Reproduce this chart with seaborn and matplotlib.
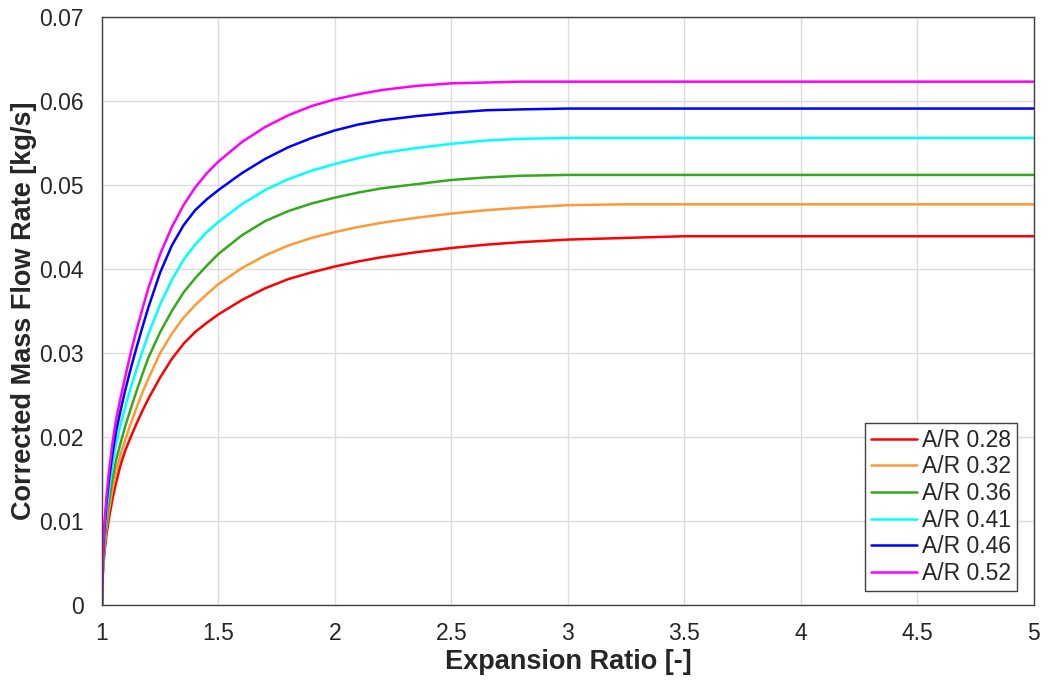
import numpy as np
import pandas as pd
import matplotlib
matplotlib.use("Agg")
import matplotlib.pyplot as plt
import seaborn as sns

# ---- data ----
expansion_ratio = [1.0, 1.003, 1.007, 1.012, 1.02, 1.03, 1.045, 1.06, 1.08, 1.1,
                   1.125, 1.15, 1.175, 1.2, 1.25, 1.3, 1.35, 1.4, 1.45, 1.5,
                   1.6, 1.7, 1.8, 1.9, 2.0, 2.1, 2.2, 2.35, 2.5, 2.65,
                   2.8, 3.0, 3.25, 3.5, 4.0, 4.5, 5.0]

ar_028 = [0.0, 0.0033, 0.0050, 0.0066, 0.0085, 0.0103, 0.0126, 0.0145, 0.0167, 0.0184,
          0.0201, 0.0217, 0.0232, 0.0246, 0.0271, 0.0293, 0.0311, 0.0325, 0.0336, 0.0346,
          0.0363, 0.0377, 0.0388, 0.0396, 0.0403, 0.0409, 0.0414, 0.0420, 0.0425, 0.0429,
          0.0432, 0.0435, 0.0437, 0.0439, 0.0439, 0.0439, 0.0439]
ar_032 = [0.0, 0.0036, 0.0055, 0.0072, 0.0093, 0.0113, 0.0138, 0.0158, 0.0180, 0.0197,
          0.0217, 0.0236, 0.0254, 0.0270, 0.0300, 0.0323, 0.0342, 0.0357, 0.0370, 0.0382,
          0.0401, 0.0416, 0.0428, 0.0437, 0.0444, 0.0450, 0.0455, 0.0461, 0.0466, 0.0470,
          0.0473, 0.0476, 0.0477, 0.0477, 0.0477, 0.0477, 0.0477]
ar_036 = [0.0, 0.0040, 0.0061, 0.0079, 0.0101, 0.0123, 0.0150, 0.0172, 0.0193, 0.0213,
          0.0235, 0.0256, 0.0276, 0.0295, 0.0325, 0.0350, 0.0372, 0.0389, 0.0404, 0.0418,
          0.0440, 0.0457, 0.0469, 0.0478, 0.0485, 0.0491, 0.0496, 0.0501, 0.0506, 0.0509,
          0.0511, 0.0512, 0.0512, 0.0512, 0.0512, 0.0512, 0.0512]
ar_041 = [0.0, 0.0044, 0.0068, 0.0088, 0.0113, 0.0137, 0.0166, 0.0191, 0.0215, 0.0236,
          0.0260, 0.0282, 0.0303, 0.0323, 0.0358, 0.0387, 0.0411, 0.0429, 0.0444, 0.0456,
          0.0477, 0.0494, 0.0507, 0.0517, 0.0525, 0.0532, 0.0538, 0.0544, 0.0549, 0.0553,
          0.0555, 0.0556, 0.0556, 0.0556, 0.0556, 0.0556, 0.0556]
ar_046 = [0.0, 0.0048, 0.0074, 0.0096, 0.0123, 0.0149, 0.0180, 0.0206, 0.0232, 0.0256,
          0.0283, 0.0308, 0.0332, 0.0355, 0.0396, 0.0428, 0.0452, 0.0470, 0.0483, 0.0494,
          0.0514, 0.0531, 0.0545, 0.0556, 0.0565, 0.0572, 0.0577, 0.0582, 0.0586, 0.0589,
          0.0590, 0.0591, 0.0591, 0.0591, 0.0591, 0.0591, 0.0591]
ar_052 = [0.0, 0.0052, 0.0080, 0.0103, 0.0131, 0.0159, 0.0193, 0.0220, 0.0247, 0.0272,
          0.0302, 0.0329, 0.0354, 0.0378, 0.0418, 0.0450, 0.0476, 0.0497, 0.0514, 0.0528,
          0.0551, 0.0569, 0.0583, 0.0594, 0.0602, 0.0608, 0.0613, 0.0618, 0.0621, 0.0622,
          0.0623, 0.0623, 0.0623, 0.0623, 0.0623, 0.0623, 0.0623]

series_labels = ["A/R 0.28", "A/R 0.32", "A/R 0.36", "A/R 0.41", "A/R 0.46", "A/R 0.52"]
series_values = [ar_028, ar_032, ar_036, ar_041, ar_046, ar_052]
series_colors = ["#FF0000", "#FF9933", "#33AA1A", "#00FFFF", "#0000FF", "#FF00FF"]

x_ticks = [1, 1.5, 2, 2.5, 3, 3.5, 4, 4.5, 5]
x_tick_labels = ["1", "1.5", "2", "2.5", "3", "3.5", "4", "4.5", "5"]
y_ticks = [0, 0.01, 0.02, 0.03, 0.04, 0.05, 0.06, 0.07]
y_tick_labels = ["0", "0.01", "0.02", "0.03", "0.04", "0.05", "0.06", "0.07"]

# ---- build long-form table ----
frames = []
for lab, vals in zip(series_labels, series_values):
    frames.append(pd.DataFrame({"Expansion Ratio": expansion_ratio,
                                "Mass Flow": vals, "Series": lab}))
df = pd.concat(frames, ignore_index=True)

sns.set_theme(style="white")
plt.rcParams["font.family"] = ["Liberation Sans", "DejaVu Sans"]

fig = plt.figure(figsize=(10.48, 6.82), dpi=100)
ax = fig.add_axes([0.0973, 0.1129, 0.8893, 0.8622])

sns.lineplot(data=df, x="Expansion Ratio", y="Mass Flow", hue="Series",
             hue_order=series_labels, palette=series_colors, linewidth=1.8,
             ax=ax, legend=True, sort=False)

ax.set_xlim(1, 5)
ax.set_ylim(0, 0.07)
ax.set_xticks(x_ticks)
ax.set_xticklabels(x_tick_labels)
ax.set_yticks(y_ticks)
ax.set_yticklabels(y_tick_labels)

ax.grid(True, color="#dcdcdc", linewidth=1.0)
ax.set_axisbelow(True)
for s in ax.spines.values():
    s.set_color("#404040")
    s.set_linewidth(1.0)
ax.tick_params(axis="both", direction="in", length=6, width=1.0, color="#404040",
               labelsize=16.5, labelcolor="#262626")
ax.tick_params(axis="x", pad=12)
ax.tick_params(axis="y", pad=13)

ax.set_xlabel("Expansion Ratio [-]", fontsize=19.5, fontweight="bold", color="#262626", labelpad=3)
ax.set_ylabel("Corrected Mass Flow Rate [kg/s]", fontsize=19.5, fontweight="bold", color="#262626", labelpad=2)

leg = ax.legend(loc="lower right", bbox_to_anchor=(0.982, 0.024), fontsize=16.5,
                frameon=True, fancybox=False, framealpha=1, edgecolor="#404040",
                handlelength=2.0, handletextpad=0.25, labelspacing=0.16,
                borderpad=0.25, borderaxespad=0)
leg.get_frame().set_linewidth(1.0)
for t in leg.get_texts():
    t.set_color("#262626")

fig.savefig("out.png", dpi=100, facecolor="white")
